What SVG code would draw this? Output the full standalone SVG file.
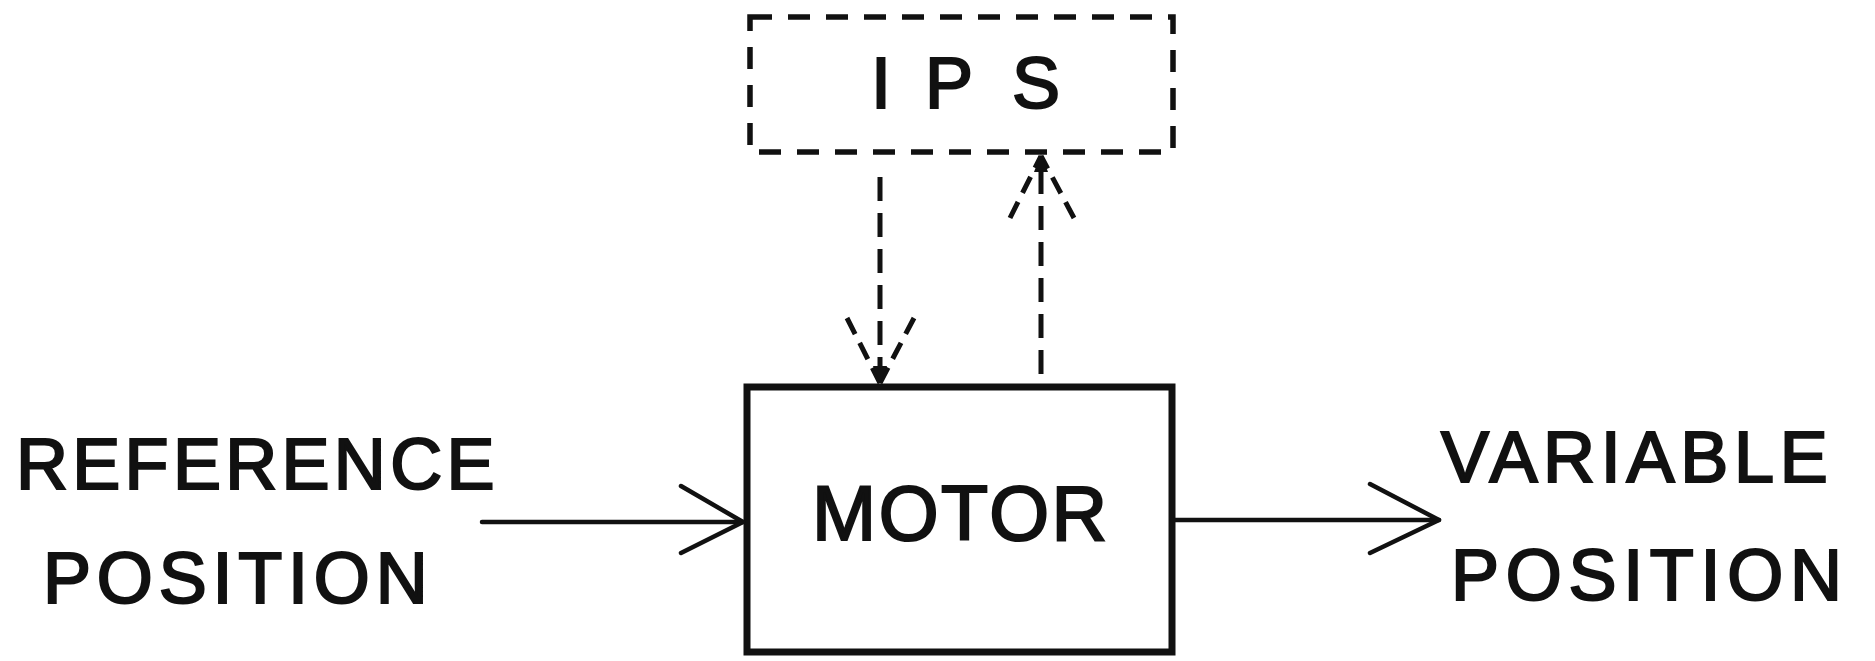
<svg xmlns="http://www.w3.org/2000/svg" width="1875" height="661" viewBox="0 0 1875 661">
<style>
.lbl{font-family:"Liberation Sans",Arial,sans-serif;font-size:72px;fill:#111;stroke:#111;stroke-width:2.2px}
.solid{fill:none;stroke:#111;stroke-width:4.5;stroke-linecap:round;stroke-linejoin:round}
.dash{fill:none;stroke:#111;stroke-width:5;stroke-dasharray:24 12}
</style>
<rect width="1875" height="661" fill="#fff"/>
<g id="ips">
<rect x="750" y="17" width="423" height="135" fill="none" stroke="#111" stroke-width="5.5" stroke-dasharray="22 16"/>
<text class="lbl" font-size="71" y="108"><tspan x="871">I</tspan><tspan x="925">P</tspan><tspan x="1012">S</tspan></text>
</g>
<g id="motor">
<rect x="747" y="387" width="425" height="265" fill="#fff" stroke="#111" stroke-width="7"/>
<text class="lbl" style="font-size:77px;letter-spacing:2.5px" x="812" y="540">MOTOR</text>
</g>
<g id="reference-label">
<text class="lbl" style="letter-spacing:4.3px" x="16" y="489">REFERENCE</text>
<text class="lbl" style="letter-spacing:5.8px" x="43" y="603">POSITION</text>
</g>
<g id="variable-label">
<text class="lbl" style="letter-spacing:5.7px" x="1441" y="482">VARIABLE</text>
<text class="lbl" style="letter-spacing:6.7px" x="1451" y="600">POSITION</text>
</g>
<g id="connectors">
<line class="solid" x1="482" y1="522" x2="743" y2="522"/>
<polyline class="solid" points="681,486 743,522 681,553"/>
<line class="solid" x1="1172" y1="520" x2="1439" y2="520"/>
<polyline class="solid" points="1370,484 1439,520 1370,553"/>
<line class="dash" x1="880" y1="177" x2="880" y2="383"/>
<line class="dash" x1="847" y1="318" x2="880" y2="383" style="stroke-dasharray:18 10"/>
<line class="dash" x1="914" y1="318" x2="880" y2="383" style="stroke-dasharray:18 10"/>
<polygon points="873,366 887,366 880,384" fill="#111"/>
<line class="dash" x1="1041" y1="374" x2="1041" y2="156"/>
<line class="dash" x1="1010" y1="218" x2="1041" y2="156" style="stroke-dasharray:18 10"/>
<line class="dash" x1="1074" y1="218" x2="1041" y2="156" style="stroke-dasharray:18 10"/>
<polygon points="1034,172 1048,172 1041,154" fill="#111"/>
</g>
</svg>
